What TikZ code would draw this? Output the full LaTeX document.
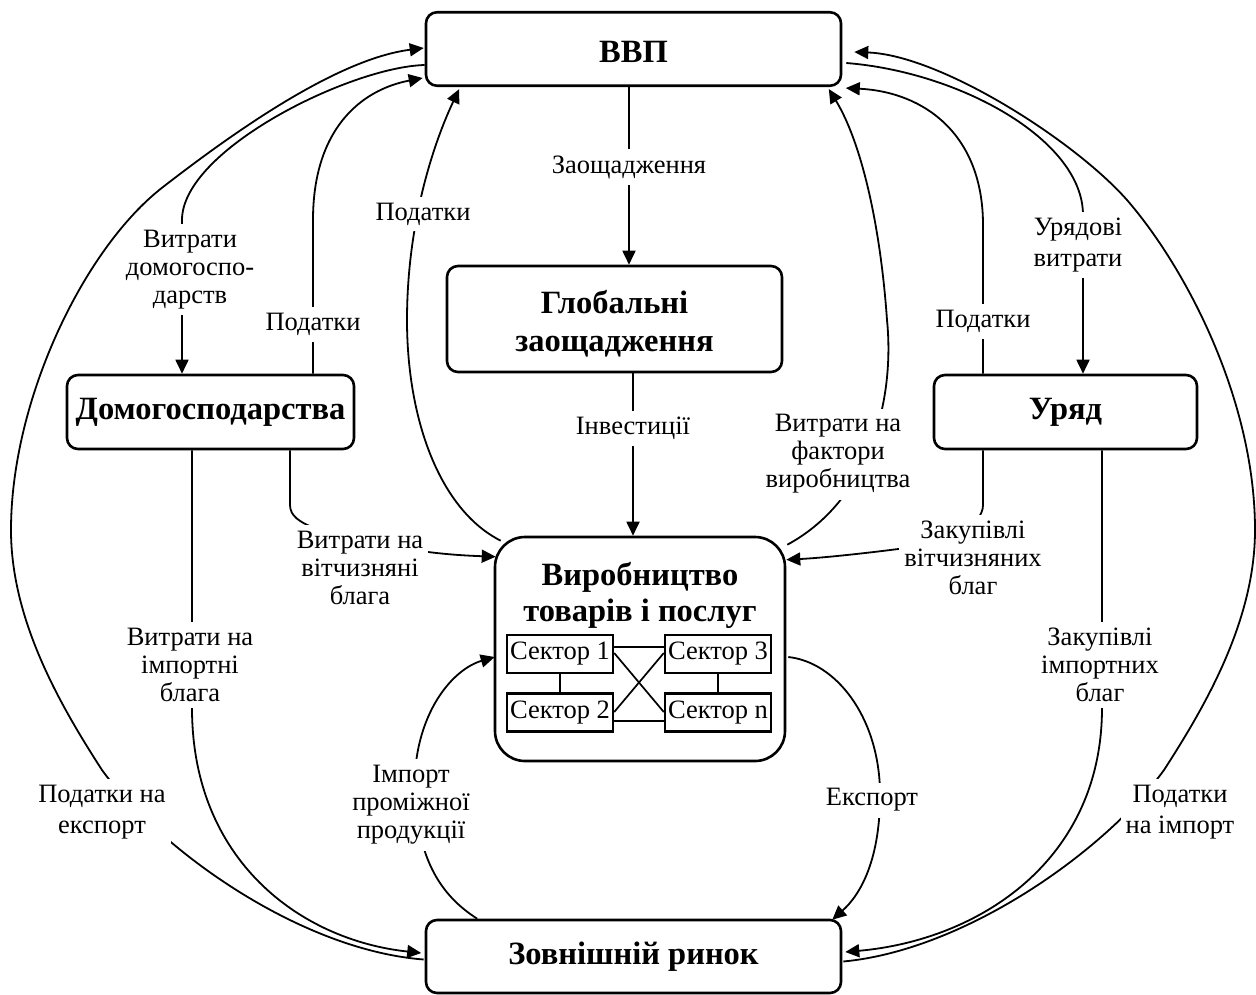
\documentclass[tikz,border=0pt]{standalone}
\usepackage{fontspec}
\setmainfont{Liberation Serif}
\usetikzlibrary{arrows.meta,calc}
\begin{document}
\begin{tikzpicture}[x=1pt,y=-1pt,
  box/.style={draw, line width=2.6pt, rounded corners=11pt, align=center, inner sep=0pt,
    font=\fontsize{32.5}{38}\selectfont\bfseries},
  sect/.style={draw, line width=2.4pt, minimum width=106pt, minimum height=38pt, inner sep=0pt,
    font=\fontsize{26.5}{28}\selectfont},
  lbl/.style={fill=white, align=center, inner xsep=5pt, inner ysep=6pt,
    font=\fontsize{26.5}{28}\selectfont},
  conn/.style={line width=1.8pt},
  arr/.style={conn, -{Triangle[length=14pt,width=13pt]}},
  link/.style={line width=1.7pt}
  ]
\fill[white] (0,0) rectangle (1256,994);
\path[use as bounding box] (0,0) rectangle (1256,994);

% main boxes
\node[box, minimum width=415pt, minimum height=73.5pt] (vvp) at (633.5,49) {\rule{0pt}{27pt}ВВП};
\node[box, minimum width=335pt, minimum height=106pt] (glob) at (614.5,319) {\rule{0pt}{33pt}Глобальні\\заощадження};
\node[box, minimum width=287pt, minimum height=74pt] (dom) at (210.5,412) {Домогосподарства};
\node[box, minimum width=263pt, minimum height=74pt] (gov) at (1065.5,412) {Уряд};
\node[box, rounded corners=30pt, minimum width=290pt, minimum height=224pt] (prod) at (640,649) {};
\node[align=center, inner sep=0pt, font=\fontsize{32.5}{36}\selectfont\bfseries] (prodt) at (640,595) {Виробництво\\товарів і послуг};
\node[box, minimum width=415pt, minimum height=73pt] (ext) at (633.5,956.5) {Зовнішній ринок};

% sectors
\node[sect] (s1) at (560,654) {Сектор 1};
\node[sect] (s2) at (560,712.5) {Сектор 2};
\node[sect] (s3) at (718,654) {Сектор 3};
\node[sect] (sn) at (718,712.5) {Сектор n};
\draw[link] ($(s1.east)+(0,-7)$) -- ($(s3.west)+(0,-7)$);
\draw[link] ($(s2.east)+(0,8.5)$) -- ($(sn.west)+(0,8.5)$);
\draw[link] ($(s1.east)+(0,-1)$) -- ($(sn.west)+(0,-0.5)$);
\draw[link] ($(s2.east)+(0,-0.5)$) -- ($(s3.west)+(0,-1)$);
\draw[link] (s1.south) -- (s2.north);
\draw[link] (s3.south) -- (sn.north);

% Заощадження
\draw[arr] ($(vvp.south)+(-4.5,0)$) -- node[lbl, pos=0.45] (lsav) {Заощадження} ($(glob.north)+(14.5,0)$);
% Інвестиції
\draw[arr] ($(glob.south)+(18.5,0)$) -- node[lbl, pos=0.34] (linv) {Інвестиції} ($(prod.north)+(-7,0)$);

% Витрати домогосподарств
\draw[arr] ($(vvp.west)+(0,16)$) .. controls (350,67) and (182,150) .. (182,220)
  -- node[lbl, pos=0.32, xshift=8pt] (lhh) {Витрати\\домогоспо-\\дарств} ($(dom.north)+(-28.5,0)$);
% Податки (households)
\draw[arr] ($(dom.north)+(102.5,0)$) -- node[lbl, pos=0.32] (ltaxh) {Податки} (313,220)
  .. controls (313,130) and (360,90) .. ($(vvp.west)+(-2,29)$);

% Податки на експорт (outer left)
\draw[arr] ($(ext.west)+(-1,3)$) .. controls (300,950) and (160,850) .. (102,770)
  .. controls (60,705) and (11,620) .. (11,530)
  .. controls (11,400) and (84,248) .. (163,187)
  .. controls (234,132) and (337,59) .. ($(vvp.west)+(-1,-1)$);

% Витрати на імпортні блага
\draw[arr] ($(dom.south)+(-18.5,0)$) -- (192,708)
  .. controls (192,860) and (300,940) .. ($(ext.west)+(-3.5,-3.5)$);

% Витрати на вітчизняні блага
\draw[arr] ($(dom.south)+(79.5,0)$) -- (290,505) .. controls (290,516) and (300,522) .. (312,527)
  .. controls (380,545) and (420,554) .. ($(prod.north west)+(2,21)$);

% Закупівлі вітчизняних благ
\draw[arr] ($(gov.south)+(-82.5,0)$) -- (983,505) .. controls (983,525) and (950,542) .. (906,548)
  .. controls (860,554) and (820,558) .. ($(prod.north east)+(0,24)$);

% Закупівлі імпортних благ
\draw[arr] ($(gov.south)+(36.5,0)$) -- (1102,708)
  .. controls (1102,860) and (980,940) .. ($(ext.east)+(3,-4.5)$);

% Податки на імпорт (outer right)
\draw[arr] ($(ext.east)+(1,5)$) .. controls (966,950) and (1106,850) .. (1164,770)
  .. controls (1206,705) and (1255,620) .. (1255,530)
  .. controls (1255,400) and (1186,268) .. (1127,200)
  .. controls (1074,140) and (940,55) .. ($(vvp.east)+(12,3)$);

% Урядові витрати
\draw[arr] ($(vvp.east)+(4,14)$) .. controls (960,72) and (1083,140) .. (1083,215)
  -- ($(gov.north)+(17.5,0)$);
% Податки (government)
\draw[arr] ($(gov.north)+(-82.5,0)$) -- node[lbl, pos=0.35] (ltaxg) {Податки} (983,225)
  .. controls (983,135) and (925,92) .. ($(vvp.south east)+(3.5,1)$);

% Витрати на фактори виробництва
\draw[arr] ($(prod.north east)+(1,9)$) .. controls (870,500) and (895,400) .. (887,320)
  .. controls (880,220) and (860,140) .. ($(vvp.south east)+(-13.5,2)$);

% Податки (production)
\draw[arr] ($(prod.north west)+(7,5)$) .. controls (440,510) and (407,420) .. (407,320)
  .. controls (407,220) and (435,140) .. ($(vvp.south west)+(34.5,2)$);

% Імпорт проміжної продукції
\draw[arr] ($(ext.north west)+(52.5,0)$) .. controls (440,895) and (420,860) .. (415,800)
  .. controls (410,720) and (450,670) .. ($(prod.west)+(1,8)$);

% Експорт
\draw[arr] ($(prod.east)+(2,8)$) .. controls (835,662) and (878,715) .. (880,790)
  .. controls (881,860) and (860,895) .. ($(ext.north east)+(-10,1)$);

% free labels
\node[lbl] (lxtax) at (102,812) {Податки на\\[3pt]експорт};
\node[lbl] (limp) at (190,665) {Витрати на\\імпортні\\блага};
\node[lbl] (ldom) at (360,568) {Витрати на\\вітчизняні\\блага};
\node[lbl] (lgdom) at (973,558) {Закупівлі\\вітчизняних\\благ};
\node[lbl] (lgimp) at (1100,665) {Закупівлі\\імпортних\\благ};
\node[lbl] (lmtax) at (1180,812) {Податки\\[3pt]на імпорт};
\node[lbl] (lgov) at (1078,245) {Урядові\\[3pt]витрати};
\node[lbl] (lfac) at (838,454) {Витрати на\\фактори\\виробництва};
\node[lbl] (ltaxp) at (423,214) {Податки};
\node[lbl] (limpi) at (411,805) {Імпорт\\проміжної\\продукції};
\node[lbl] (lexp) at (872,800) {Експорт};
\end{tikzpicture}
\end{document}
